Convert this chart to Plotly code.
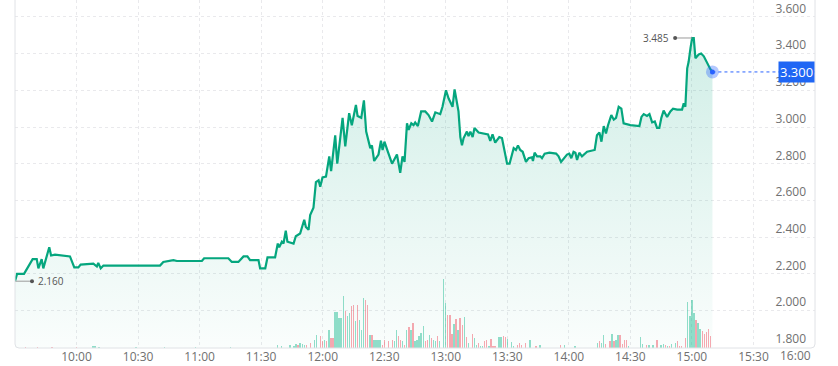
import numpy as np
import pandas as pd
import plotly.graph_objects as go

# ---------------- data ----------------
SESSION_DATE = "2024-06-14"
OPEN_TIME = "09:30"

minutes_after_open = [
    0, 1.0, 4.4, 8.6, 10.6, 11.4, 13.0, 13.8, 16.7, 17.6,
    19.5, 25.2, 26.8, 28.9, 30.9, 32.0, 38.2, 39.9, 40.6, 41.8,
    43.1, 70.7, 72.3, 77.2, 78.9, 91.1, 92.2, 104.0, 105.7, 108.9,
    111.4, 113.3, 114.6, 118.7, 119.5, 122.0, 123.1, 126.8, 128.1, 128.8,
    130.1, 130.9, 132.0, 132.8, 135.8, 136.9, 139.0, 141.0, 141.8, 143.1,
    143.9, 145.5, 146.7, 148.0, 148.8, 149.9, 151.6, 153.2, 154.1, 156.1,
    157.1, 159.7, 161.0, 162.9, 164.2, 166.2, 167.0, 168.8, 170.1, 171.2,
    173.2, 174.0, 175.1, 177.2, 178.4, 179.2, 180.1, 181.8, 183.8, 186.2,
    187.8, 188.9, 189.9, 191.1, 191.9, 193.2, 194.3, 195.1, 196.4, 198.0,
    200.0, 201.6, 203.3, 204.9, 207.3, 208.4, 210.1, 211.4, 212.7, 213.3,
    214.3, 215.5, 216.2, 217.1, 217.9, 218.7, 220.3, 221.1, 222.0, 223.1,
    224.0, 226.0, 229.3, 230.6, 231.7, 232.8, 234.1, 236.1, 237.4, 238.7,
    239.9, 241.1, 243.1, 244.2, 245.2, 246.3, 247.5, 249.1, 250.4, 252.0,
    252.5, 253.3, 254.5, 256.1, 256.9, 258.2, 260.5, 263.8, 265.0, 266.2,
    267.5, 269.1, 270.2, 271.2, 272.3, 273.2, 274.0, 275.1, 276.4, 277.7,
    278.9, 282.6, 283.7, 284.9, 285.9, 287.0, 288.1, 289.1, 290.7, 291.9,
    293.0, 294.3, 295.6, 296.7, 298.4, 300.0, 304.4, 305.4, 306.5, 308.1,
    309.3, 310.6, 311.9, 313.0, 314.1, 315.1, 316.2, 317.9, 319.5, 320.8,
    322.8, 325.2, 326.0, 326.8, 327.7, 328.4, 329.3, 330.1, 330.9, 331.7,
    333.3, 334.5, 335.8, 337.4, 339.0, 340.0,
]

price = [
    2.160, 2.200, 2.200, 2.280, 2.280, 2.230, 2.280, 2.230, 2.345, 2.300,
    2.305, 2.300, 2.295, 2.235, 2.235, 2.250, 2.255, 2.240, 2.260, 2.230,
    2.245, 2.245, 2.265, 2.275, 2.270, 2.270, 2.285, 2.285, 2.265, 2.265,
    2.295, 2.295, 2.275, 2.275, 2.230, 2.230, 2.290, 2.290, 2.365, 2.345,
    2.375, 2.365, 2.435, 2.375, 2.365, 2.405, 2.420, 2.495, 2.455, 2.440,
    2.520, 2.560, 2.700, 2.710, 2.675, 2.725, 2.730, 2.840, 2.760, 2.955,
    2.800, 3.050, 2.895, 3.075, 3.010, 3.120, 3.060, 3.050, 3.145, 2.975,
    2.885, 2.900, 2.815, 2.850, 2.925, 2.875, 2.920, 2.865, 2.800, 2.850,
    2.750, 2.840, 2.810, 3.020, 2.985, 3.020, 3.010, 3.025, 3.005, 3.085,
    3.085, 3.065, 3.030, 3.080, 3.070, 3.110, 3.200, 3.155, 3.120, 3.110,
    3.205, 3.120, 3.085, 2.945, 2.900, 2.940, 2.975, 2.950, 2.975, 2.945,
    2.995, 2.970, 2.960, 2.960, 2.925, 2.960, 2.915, 2.945, 2.940, 2.875,
    2.800, 2.800, 2.885, 2.875, 2.900, 2.875, 2.865, 2.810, 2.830, 2.835,
    2.815, 2.860, 2.840, 2.840, 2.830, 2.855, 2.860, 2.855, 2.840, 2.810,
    2.830, 2.850, 2.855, 2.830, 2.865, 2.860, 2.820, 2.860, 2.840, 2.855,
    2.865, 2.875, 2.955, 2.970, 2.920, 3.005, 2.965, 3.010, 3.065, 3.040,
    3.050, 3.110, 3.100, 3.020, 3.015, 3.010, 3.005, 3.055, 3.070, 3.060,
    3.070, 3.025, 3.030, 2.995, 2.995, 3.050, 3.090, 3.055, 3.085, 3.100,
    3.095, 3.095, 3.130, 3.110, 3.320, 3.355, 3.430, 3.485, 3.485, 3.375,
    3.395, 3.400, 3.385, 3.345, 3.315, 3.300,
]

vol_minutes = [
    5, 11, 18, 30, 38, 39, 41, 59, 73, 88,
    105, 128, 130, 134, 136, 137, 138, 139, 140, 141,
    142, 144, 146, 147, 149, 150, 151, 152, 153, 154,
    155, 156, 157, 158, 159, 160, 161, 162, 163, 164,
    165, 166, 167, 168, 169, 170, 171, 172, 173, 174,
    175, 176, 177, 178, 179, 180, 182, 184, 185, 186,
    187, 188, 189, 190, 191, 192, 193, 194, 195, 196,
    197, 198, 199, 200, 201, 202, 203, 204, 205, 206,
    207, 209, 210, 211, 212, 213, 214, 215, 216, 217,
    218, 219, 220, 221, 223, 224, 225, 226, 227, 228,
    229, 230, 231, 232, 233, 234, 236, 237, 238, 239,
    240, 242, 243, 245, 246, 247, 249, 251, 254, 256,
    266, 268, 273, 284, 285, 286, 287, 288, 290, 291,
    292, 293, 294, 295, 296, 297, 298, 299, 305, 306,
    308, 309, 311, 313, 315, 316, 317, 318, 319, 320,
    322, 323, 324, 325, 327, 328, 329, 330, 331, 332,
    333, 334, 335, 336, 337, 338, 339,
]

vol_values = [  # in 10k shares
    1, 1, 1, 1, 2, 2, 1, 1, 1, 1,
    1, 3, 2, 3, 2, 4, 3, 5, 4, 3,
    3, 5, 8, 13, 12, 7, 8, 7, 18, 10,
    10, 36, 36, 30, 30, 52, 37, 32, 35, 42,
    43, 27, 43, 28, 18, 50, 48, 43, 13, 13,
    8, 8, 8, 8, 3, 8, 7, 8, 7, 18,
    12, 8, 7, 3, 18, 21, 18, 25, 7, 8,
    12, 15, 22, 7, 8, 13, 10, 8, 7, 12,
    7, 69, 45, 33, 33, 14, 24, 29, 18, 30,
    23, 31, 11, 5, 14, 10, 3, 5, 2, 2,
    7, 8, 2, 9, 2, 2, 11, 11, 12, 11,
    9, 6, 2, 3, 5, 3, 5, 8, 2, 3,
    3, 3, 2, 5, 7, 5, 13, 4, 7, 14,
    7, 8, 13, 13, 4, 8, 8, 2, 11, 4,
    3, 3, 3, 8, 3, 4, 3, 2, 2, 4,
    5, 7, 2, 2, 10, 46, 32, 48, 35, 28,
    25, 19, 17, 14, 16, 19, 12,
]

vol_up = [  # 1 = up minute (green), 0 = down minute (red)
    0, 0, 0, 0, 1, 1, 1, 1, 1, 1,
    1, 1, 1, 1, 1, 1, 0, 1, 1, 1,
    0, 0, 1, 1, 0, 0, 1, 0, 1, 0,
    0, 1, 1, 1, 1, 1, 0, 1, 1, 0,
    0, 1, 0, 1, 1, 1, 0, 0, 1, 0,
    1, 1, 1, 1, 0, 0, 0, 0, 1, 1,
    0, 0, 1, 0, 1, 0, 1, 0, 1, 1,
    1, 1, 1, 0, 0, 1, 0, 1, 1, 0,
    1, 1, 1, 0, 0, 0, 1, 0, 1, 0,
    0, 1, 0, 1, 0, 1, 1, 0, 1, 1,
    0, 0, 1, 0, 0, 0, 1, 1, 0, 0,
    1, 1, 1, 0, 0, 0, 0, 1, 0, 1,
    0, 1, 1, 1, 0, 1, 1, 0, 0, 1,
    0, 1, 1, 0, 0, 0, 0, 1, 1, 1,
    0, 1, 1, 0, 1, 1, 0, 1, 0, 1,
    1, 0, 0, 0, 0, 1, 1, 1, 1, 0,
    1, 1, 0, 0, 0, 0, 0,
]

x_tick_labels = ["10:00", "10:30", "11:00", "11:30", "12:00", "12:30", "13:00",
                 "13:30", "14:00", "14:30", "15:00", "15:30", "16:00"]
y_tick_values = [1.8, 2.0, 2.2, 2.4, 2.6, 2.8, 3.0, 3.2, 3.4, 3.6]

# ---------------- styling ----------------
LINE_GREEN = "#05a67e"
UP_BAR = "rgba(38,190,150,0.50)"
DOWN_BAR = "rgba(239,83,100,0.50)"
BLUE = "#2962ff"
GRID = "#e9e9ec"
TEXT = "#707070"

open_ts = pd.Timestamp(f"{SESSION_DATE} {OPEN_TIME}")
times = open_ts + pd.to_timedelta(minutes_after_open, unit="min")
vol_times = open_ts + pd.to_timedelta(vol_minutes, unit="min")
tick_ts = [pd.Timestamp(f"{SESSION_DATE} {t}") for t in x_tick_labels]
close_ts = tick_ts[-1]

fig = go.Figure()

fig.add_trace(go.Bar(
    x=vol_times, y=vol_values, yaxis="y2",
    marker=dict(color=[UP_BAR if u else DOWN_BAR for u in vol_up], line=dict(width=0)),
    width=0.65 * 60 * 1000, hoverinfo="skip",
))

fig.add_trace(go.Scatter(
    x=times, y=price, mode="lines",
    line=dict(color=LINE_GREEN, width=2.2),
    fill="tozeroy",
    fillgradient=dict(type="vertical",
                      colorscale=[[0, "rgba(8,165,126,0.02)"], [1, "rgba(8,165,126,0.19)"]],
                      start=1.8, stop=3.5),
))

# last price marker
fig.add_trace(go.Scatter(x=[times[-1]], y=[price[-1]], mode="markers",
                         marker=dict(size=13, color="rgba(41,98,255,0.35)"), hoverinfo="skip"))
fig.add_trace(go.Scatter(x=[times[-1]], y=[price[-1]], mode="markers",
                         marker=dict(size=5, color=BLUE), hoverinfo="skip"))

shapes = []
annotations = []

# dotted last-price line
shapes.append(dict(type="line", xref="x", yref="y", x0=times[-1], x1=close_ts,
                   y0=price[-1], y1=price[-1], line=dict(color=BLUE, width=1, dash="dot")))
annotations.append(dict(xref="paper", yref="y", x=1, y=price[-1], xanchor="right",
                        yanchor="middle", text=f"{price[-1]:.3f}", showarrow=False,
                        bgcolor="#1f66f4", borderpad=1,
                        font=dict(color="white", size=13, family="Open Sans")))

# high / low markers
i_hi = int(np.argmax(price))
i_lo = int(np.argmin(price))
for idx, side in ((i_hi, -1), (i_lo, 1)):
    t, v = times[idx], price[idx]
    shapes.append(dict(type="line", xref="x", yref="y", xsizemode="pixel", xanchor=t,
                       x0=0, x1=17 * side, y0=v, y1=v, line=dict(color="#9b9b9b", width=1)))
    shapes.append(dict(type="circle", xref="x", yref="y", xsizemode="pixel", ysizemode="pixel",
                       xanchor=t, yanchor=v, x0=17 * side - 2, x1=17 * side + 2, y0=-2, y1=2,
                       fillcolor="#555555", line=dict(width=0)))
    annotations.append(dict(xref="x", yref="y", x=t, y=v,
                            xanchor="right" if side < 0 else "left", xshift=21 * side,
                            yanchor="middle", text=f"{v:.3f}", showarrow=False,
                            font=dict(color="#555555", size=10, family="Open Sans")))

# frame with rounded corners
rx, ry = 4 / 800, 4 / 348
shapes.append(dict(type="path", xref="paper", yref="paper",
                   path=f"M 0,1.05 L 0,{ry} Q 0,0 {rx},0 L {1 - rx},0 Q 1,0 1,{ry} L 1,1.05",
                   line=dict(color="#e0e2e6", width=1), layer="above"))

# last x label (kept inside the frame)
annotations.append(dict(xref="x", yref="paper", x=close_ts, y=0, xanchor="right", yanchor="top",
                        xshift=-2, yshift=3, text=x_tick_labels[-1], showarrow=False,
                        font=dict(color=TEXT, size=12, family="Open Sans")))

fig.update_layout(
    width=838, height=366,
    margin=dict(l=15, r=23, t=0, b=18, autoexpand=False),
    paper_bgcolor="white", plot_bgcolor="white",
    showlegend=False, bargap=0,
    font=dict(family="Open Sans", size=12, color=TEXT),
    shapes=shapes, annotations=annotations,
    xaxis=dict(type="date", range=[open_ts, close_ts], automargin=False,
               tickvals=tick_ts[:-1], ticktext=x_tick_labels[:-1],
               showgrid=True, gridcolor=GRID, griddash="3px,3px", gridwidth=1,
               showline=False, zeroline=False, ticks="",
               tickfont=dict(size=12, color=TEXT)),
    yaxis=dict(side="right", range=[1.796, 3.692], tickvals=y_tick_values, tickformat=".3f",
               ticklabelposition="inside top", ticklabelstandoff=6, ticklabeloverflow="allow",
               automargin=False,
               showgrid=True, gridcolor=GRID, griddash="3px,3px", gridwidth=1,
               showline=False, zeroline=False, ticks="",
               tickfont=dict(size=12, color=TEXT)),
    yaxis2=dict(overlaying="y", range=[0, max(vol_values) * 5.04], visible=False),
)

fig.write_html("out.html", config={"displayModeBar": False},
               post_script="document.body.style.margin='0';")
